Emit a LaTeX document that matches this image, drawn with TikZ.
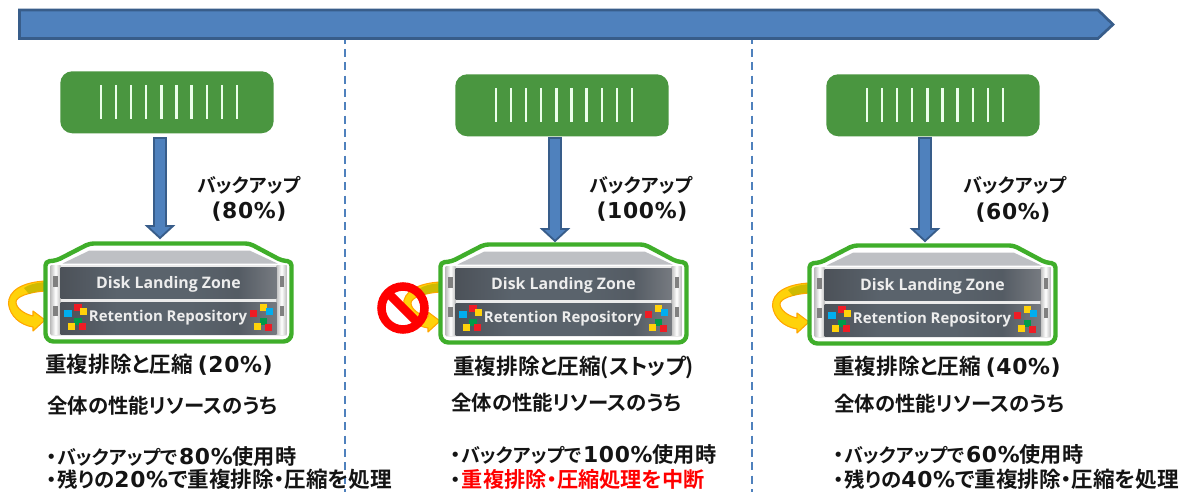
\documentclass[tikz,border=0pt]{standalone}
\usepackage{fontspec}
\usetikzlibrary{calc}
\newfontfamily\cjk{Noto Sans CJK JP}[BoldFont={Noto Sans CJK JP Bold},RawFeature=+palt]
\newfontfamily\lat{DejaVu Sans}[LetterSpace=3]
\newfontfamily\pan{Open Sans}
\definecolor{barblue}{HTML}{4F81BD}
\definecolor{barline}{HTML}{385D8A}
\definecolor{boxgreen}{HTML}{4A9640}
\definecolor{frame}{HTML}{3FAE2A}
\definecolor{slab}{HTML}{BEC0C4}
\definecolor{sqred}{HTML}{EE1C25}
\definecolor{sqyel}{HTML}{FFD20A}
\definecolor{sqcya}{HTML}{00AEEF}
\definecolor{sqgrn}{HTML}{009A49}
\definecolor{pdark}{HTML}{3C3D42}
\definecolor{pmid}{HTML}{5A636C}
\definecolor{plite}{HTML}{95969A}
\pgfdeclarehorizontalshading{panelshade}{100bp}{
  color(0bp)=(pdark);color(18bp)=(pdark!70!pmid);color(38bp)=(pmid);
  color(55bp)=(pmid);color(66bp)=(pmid!80!pdark);color(83bp)=(plite);color(94bp)=(pdark);color(100bp)=(pdark)}
\newcommand{\jf}{\fontsize{15.3pt}{18pt}\selectfont\cjk\bfseries}
\newcommand{\jhead}{\fontsize{16.2pt}{18pt}\selectfont\cjk\bfseries}
\newcommand{\jkana}{\fontsize{14.2pt}{18pt}\selectfont\cjk\bfseries}
\newcommand{\jkan}{\fontsize{15.9pt}{18pt}\selectfont\cjk\bfseries}
\newcommand{\jtail}{\fontsize{16.2pt}{18pt}\selectfont\cjk\bfseries}
\newcommand{\lf}{\fontsize{16.4pt}{18pt}\selectfont\lat\bfseries}
\newcommand{\bul}{{\jf ・}\hspace{1pt}}
\tikzset{
  x=0.75pt,y=-0.75pt,
  label text/.style={inner sep=0,anchor=west,font=\jf,text=black!92},
  center text/.style={inner sep=0,anchor=center,font=\jf,text=black!92},
  dlz text/.style={inner sep=0,text=white!93!black,font=\fontsize{11.9pt}{14pt}\selectfont\pan\bfseries},
  rr text/.style={inner sep=0,text=white!93!black,font=\fontsize{11.2pt}{14pt}\selectfont\pan\bfseries},
  source box/.style={fill=boxgreen,rounded corners=9,draw=none},
  tick mark/.style={draw=white!92!green,line width=1.7pt},
  block arrow/.style={fill=barblue,draw=barline,line width=1.4pt,line join=miter},
  divider/.style={draw=barblue,line width=0.8pt,dash pattern=on 6pt off 4pt},
}
\newcommand{\sourcebox}[3]{%
  \begin{scope}[shift={(#1,#2)}]
    \node[source box,minimum width=160pt,minimum height=46.5pt,inner sep=0,anchor=north west] (#3) at (0,0) {};
    \foreach \k in {0,...,9}{\draw[tick mark] ({41+15.1*\k},14) -- ++(0,34);}
  \end{scope}}
\newcommand{\blockarrow}[3]{%
  \draw[block arrow] (#1-6,#2) -- (#1+6,#2) -- (#1+6,#3-12) -- (#1+13,#3-12) -- (#1,#3) -- (#1-13,#3-12) -- (#1-6,#3-12) -- cycle;}
\newcommand{\sq}[3]{\fill[#3] (#1,#2) rectangle ++(7.8,7.3);}
\newcommand{\appliance}[3]{%
  \begin{scope}[shift={(#1,#2)}]
    \draw[frame,line width=3.3pt,fill=white,rounded corners=6] (120,98) -- (0,98) -- (0,30) [rounded corners=3] -- (0,18) -- (11,17) -- (44,0) -- (204,0) -- (236,17) -- (246,18) -- (246,30) [rounded corners=6] -- (246,98) -- cycle;
    \fill[slab] (17,20) -- (44,7) -- (204,7) -- (232,20) -- cycle;
    \fill[white!92!black] (5,21) rectangle (241,92);
    \shade[left color=black!25,right color=black!25,middle color=white] (5,22) rectangle (15,91);
    \shade[left color=black!25,right color=black!25,middle color=white] (231,22) rectangle (241,91);
    \fill[black!50] (7.5,32) rectangle (12,43);
    \fill[black!50] (7.5,62) rectangle (12,72);
    \fill[black!50] (234,32) rectangle (238.5,43);
    \fill[black!50] (234,62) rectangle (238.5,72);
    \shade[shading=panelshade] (15,23.5) rectangle (231,54.5);
    \shade[shading=panelshade] (15,59) rectangle (231,90.5);
    \node[dlz text] (#3dlz) at (123,40.5) {Disk Landing Zone};
    \node[rr text] (#3rr) at (122.5,74.5) {Retention Repository};
    \sq{18.5}{66.5}{sqcya}\sq{28.5}{60.5}{sqred}\sq{34}{64}{sqyel}\sq{28.5}{74}{sqgrn}\sq{22}{79}{sqyel}\sq{33}{79.5}{sqred}
    \sq{204}{66.5}{sqred}\sq{214}{60.5}{sqyel}\sq{220}{64}{sqcya}\sq{214}{74}{sqgrn}\sq{208}{79}{sqyel}\sq{219}{80}{sqred}
  \end{scope}}
\newcommand{\loopback}[2]{%
  \begin{scope}[shift={(#1,#2)}]
    \draw[fill=sqyel,draw=orange!70!yellow,line width=0.8pt,line join=round]
      (46,281) .. controls (22,282) and (8,291) .. (8.5,304)
      .. controls (10,316) and (20,325) .. (33,327)
      -- (33,331) -- (45,320) -- (33,311) -- (33,316)
      .. controls (24,314) and (16,308) .. (16,302)
      .. controls (16,297) and (28,292) .. (46,291) -- cycle;
    \fill[olive!60!yellow,opacity=.7] (46,282) .. controls (34,283) and (28,285) .. (24,288) -- (29,294) .. controls (33,292) and (38,291) .. (46,290.5) -- cycle;
  \end{scope}}
\begin{document}
\begin{tikzpicture}
\useasboundingbox (0,0) rectangle (1179,492);
\fill[white] (0,0) rectangle (1179,492);
\coordinate (d1t) at (345,9); \coordinate (d1b) at (345,492);
\coordinate (d2t) at (752,9); \coordinate (d2b) at (752,492);
\draw[divider] (d1t) -- (d1b);
\draw[divider] (d2t) -- (d2b);
\draw[fill=barblue,draw=barline,line width=2pt,line join=miter] (19.5,10) -- (1098,10) -- (1113,24.5) -- (1098,38.5) -- (19.5,38.5) -- cycle;
\sourcebox{60}{71}{srcA}
\sourcebox{455}{74}{srcB}
\sourcebox{826}{74}{srcC}
\blockarrow{160}{138}{238}
\blockarrow{555}{138}{241}
\blockarrow{925}{138}{241}
\loopback{0}{0}
\loopback{395}{1}
\loopback{764}{2}
\appliance{45.5}{243.5}{a}
\appliance{440.5}{244.5}{b}
\appliance{809.5}{245.5}{c}
\draw[red,line width=6.4pt] (403,308) circle (21.5);
\draw[red,line width=6.6pt] (388,293) -- (418,323);
\node[center text,font=\jkana] (ba) at (249,185) {バックアップ};
\node[center text] (pa) at (249,212) {{\lf(80\%)}};
\node[label text,font=\jhead] (ta1) at (45,365) {重複排除と圧縮 {\lf(20\%)}};
\node[label text] (ta2) at (47,406) {全体の性能リソースのうち};
\node[label text] (ta3) at (46,456) {\bul{\jkana バックアップで\hspace{1pt}}{\lf 80\%}{\jkan 使用時}};
\node[label text] (ta4) at (46,479.5) {\bul{\jf 残りの}{\lf 20\%}{\jtail で重複排除・圧縮を処理}};
\node[center text,font=\jkana] (bb) at (641,185) {バックアップ};
\node[center text] (pb) at (642,212) {{\lf(100\%)}};
\node[label text,font=\jhead] (tb1) at (453,367) {重複排除と圧縮(ストップ)};
\node[label text] (tb2) at (451,403) {全体の性能リソースのうち};
\node[label text] (tb3) at (450,454) {\bul{\jkana バックアップで\hspace{1pt}}{\lf 100\%}{\jkan 使用時}};
\node[label text] (tb4) at (450,479.5) {\bul{\jkan\color{red}重複排除・圧縮処理を中断}};
\node[center text,font=\jkana] (bc) at (1015,185) {バックアップ};
\node[center text] (pc) at (1013,213) {{\lf(60\%)}};
\node[label text,font=\jhead] (tc1) at (833,367) {重複排除と圧縮 {\lf(40\%)}};
\node[label text] (tc2) at (834,404) {全体の性能リソースのうち};
\node[label text] (tc3) at (833,454) {\bul{\jkana バックアップで\hspace{1pt}}{\lf 60\%}{\jkan 使用時}};
\node[label text] (tc4) at (833,479.5) {\bul{\jf 残りの}{\lf 40\%}{\jtail で重複排除・圧縮を処理}};
\end{tikzpicture}
\end{document}
